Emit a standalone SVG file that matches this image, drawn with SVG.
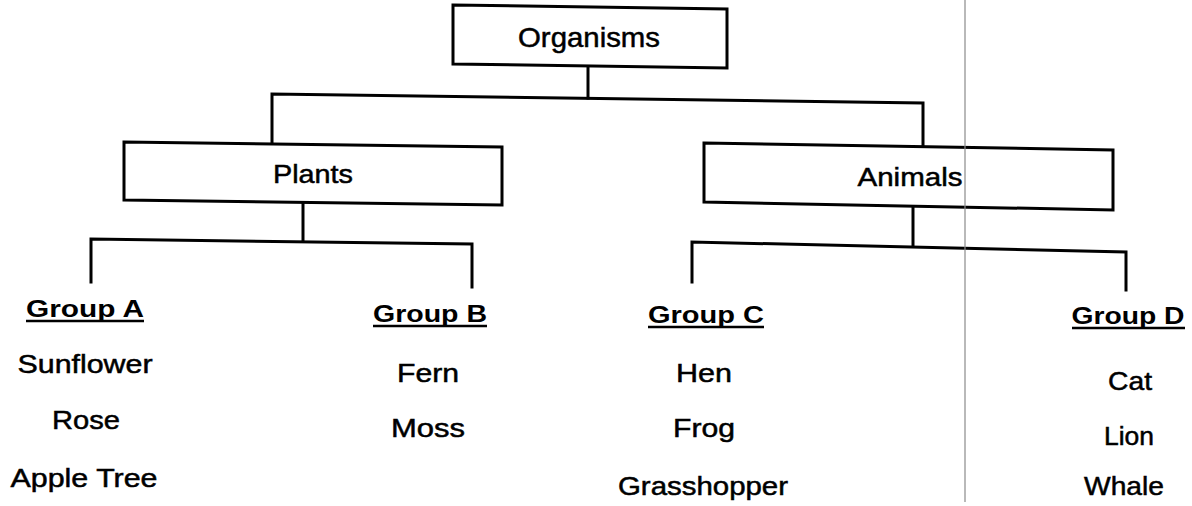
<svg xmlns="http://www.w3.org/2000/svg" width="1192" height="506" viewBox="0 0 1192 506">
  <style>
    .box { fill: #ffffff; stroke: #000000; stroke-width: 3; stroke-linejoin: miter; }
    .conn { fill: none; stroke: #000000; stroke-width: 3; stroke-linecap: square; }
    .t { font-family: "Liberation Sans", Arial, sans-serif; font-size: 26px; fill: #000000; stroke: #000000; stroke-width: 0.5; text-anchor: middle; }
    .big { font-size: 28px; }
    .grp { font-family: "Liberation Sans", Arial, sans-serif; font-size: 23px; font-weight: bold; fill: #000000; text-anchor: middle; }
    .ul { stroke: #000000; stroke-width: 2.5; }
    .scan { stroke: #8a8a8a; stroke-width: 1.2; }
  </style>
  <rect x="0" y="0" width="1192" height="506" fill="#ffffff"/>

  <g id="connectors">
    <path class="conn" d="M588 67 L588 98"/>
    <path class="conn" d="M272 142 L272 94 L923 103 L923 146"/>
    <path class="conn" d="M303 203 L303 241"/>
    <path class="conn" d="M91 282 L91 239 L472 244 L472 287"/>
    <path class="conn" d="M913 207 L913 245"/>
    <path class="conn" d="M692 282 L692 242 L1126 252 L1126 290"/>
  </g>

  <g id="node-organisms">
    <path class="box" d="M453 5 L727 9 L727 68 L453 64 Z"/>
    <text class="t big" x="589" y="47" textLength="142" lengthAdjust="spacingAndGlyphs">Organisms</text>
  </g>

  <g id="node-plants">
    <path class="box" d="M124 142 L502 147 L502 205 L124 200 Z"/>
    <text class="t" x="313" y="183" textLength="80" lengthAdjust="spacingAndGlyphs">Plants</text>
  </g>

  <g id="node-animals">
    <path class="box" d="M704 143 L1113 150 L1113 210 L704 202 Z"/>
    <text class="t" x="910" y="186" textLength="105" lengthAdjust="spacingAndGlyphs">Animals</text>
  </g>

  <g id="node-group-a">
    <text class="grp" x="85" y="317" textLength="118" lengthAdjust="spacingAndGlyphs">Group A</text>
    <line class="ul" x1="26" y1="321" x2="144" y2="321"/>
    <text class="t" x="85" y="373" textLength="135" lengthAdjust="spacingAndGlyphs">Sunflower</text>
    <text class="t" x="86" y="429" textLength="68" lengthAdjust="spacingAndGlyphs">Rose</text>
    <text class="t" x="84" y="487" textLength="147" lengthAdjust="spacingAndGlyphs">Apple Tree</text>
  </g>

  <g id="node-group-b">
    <text class="grp" x="430" y="322" textLength="114" lengthAdjust="spacingAndGlyphs">Group B</text>
    <line class="ul" x1="373" y1="326" x2="487" y2="326"/>
    <text class="t" x="428" y="382" textLength="62" lengthAdjust="spacingAndGlyphs">Fern</text>
    <text class="t" x="428" y="437" textLength="74" lengthAdjust="spacingAndGlyphs">Moss</text>
  </g>

  <g id="node-group-c">
    <text class="grp" x="706" y="323" textLength="116" lengthAdjust="spacingAndGlyphs">Group C</text>
    <line class="ul" x1="648" y1="327" x2="764" y2="327"/>
    <text class="t" x="704" y="382" textLength="56" lengthAdjust="spacingAndGlyphs">Hen</text>
    <text class="t" x="704" y="437" textLength="62" lengthAdjust="spacingAndGlyphs">Frog</text>
    <text class="t" x="703" y="495" textLength="170" lengthAdjust="spacingAndGlyphs">Grasshopper</text>
  </g>

  <g id="node-group-d">
    <text class="grp" x="1128" y="324" textLength="113" lengthAdjust="spacingAndGlyphs">Group D</text>
    <line class="ul" x1="1072" y1="328" x2="1185" y2="328"/>
    <text class="t" x="1130" y="390" textLength="44" lengthAdjust="spacingAndGlyphs">Cat</text>
    <text class="t" x="1129" y="445" textLength="50" lengthAdjust="spacingAndGlyphs">Lion</text>
    <text class="t" x="1124" y="495" textLength="80" lengthAdjust="spacingAndGlyphs">Whale</text>
  </g>

  <line class="scan" x1="965" y1="0" x2="965" y2="502"/>
</svg>
